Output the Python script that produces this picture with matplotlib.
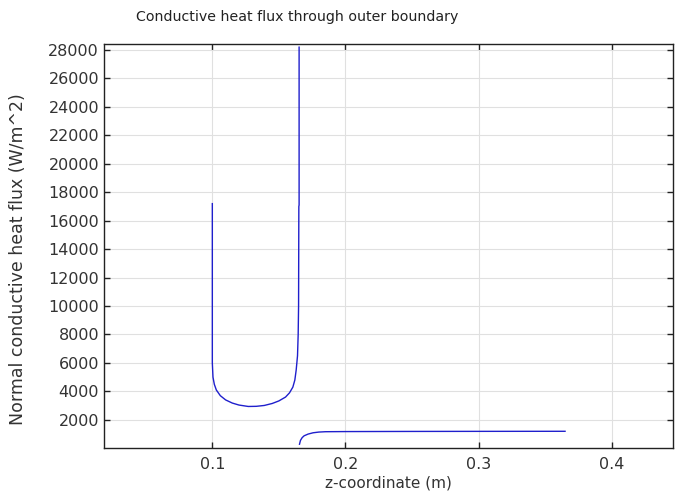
import matplotlib
matplotlib.use("Agg")
import matplotlib.pyplot as plt

# boundary segment 1: inner wall (z from 0.1 up to ~0.165)
seg1_z = [0.1, 0.1, 0.1, 0.1005, 0.1015, 0.103, 0.106, 0.110, 0.115, 0.120,
          0.127, 0.133, 0.139, 0.145, 0.150, 0.155, 0.158, 0.1605, 0.162,
          0.163, 0.164, 0.1645, 0.1648, 0.165, 0.1652, 0.1652]
seg1_q = [17200, 10000, 6000, 5000, 4500, 4100, 3700, 3400, 3180, 3040,
          2940, 2950, 3010, 3150, 3330, 3600, 3900, 4300, 4800,
          5500, 6500, 8000, 10000, 17000, 17100, 28200]

# boundary segment 2: outer bottom (z from 0.165 to 0.365)
seg2_z = [0.1655, 0.1662, 0.1675, 0.169, 0.172, 0.1757, 0.180, 0.185, 0.2,
          0.25, 0.3, 0.365]
seg2_q = [286, 550, 750, 880, 1000, 1090, 1140, 1165, 1175, 1185, 1190, 1195]

xticks = [0.1, 0.2, 0.3, 0.4]
yticks = list(range(2000, 28001, 2000))

plt.rcParams['font.family'] = 'DejaVu Sans'

fig = plt.figure(figsize=(6.8, 4.93), dpi=100)
ax = fig.add_axes([0.1529, 0.0907, 0.8372, 0.8194])

ax.plot(seg1_z, seg1_q, color='#1f1fcc', lw=1)
ax.plot(seg2_z, seg2_q, color='#1f1fcc', lw=1)

ax.set_xlim(0.0186, 0.4463)
ax.set_ylim(0, 28400)
ax.set_xticks(xticks)
ax.set_xticklabels(['0.1', '0.2', '0.3', '0.4'])
ax.set_yticks(yticks)
ax.grid(True, color='#e0e0e0', lw=0.8)
ax.tick_params(direction='in', length=4, width=1, top=True, right=True,
               labelsize=11.5, labelcolor='#333333', color='#222222')
ax.tick_params(axis='x', pad=6)
for s in ax.spines.values():
    s.set_linewidth(1)
    s.set_color('#222222')

ax.set_xlabel('z-coordinate (m)', fontsize=11, color='#333333', va='center')
ax.set_ylabel('Normal conductive heat flux (W/m^2)', fontsize=12.5, color='#333333', va='center')
ax.xaxis.set_label_coords(0.5, -0.087)
ax.yaxis.set_label_coords(-0.151, 0.468)
fig.text(297 / 680, 1 - 17 / 493, 'Conductive heat flux through outer boundary',
         ha='center', va='center', fontsize=10.2, color='#222222')

fig.savefig('out.png', dpi=100)
